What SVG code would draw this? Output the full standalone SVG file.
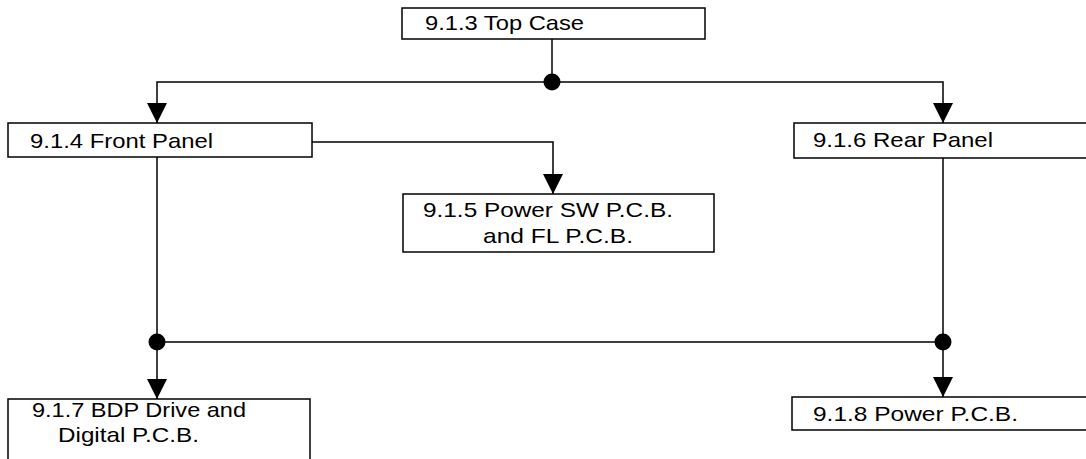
<svg xmlns="http://www.w3.org/2000/svg" width="1086" height="459" viewBox="0 0 1086 459">
<defs>
<style>
.box{fill:#fff;stroke:#000;stroke-width:1.5}
.ln{fill:none;stroke:#000;stroke-width:1.5}
.t{font-family:"Liberation Sans",Arial,sans-serif;font-size:21px;fill:#000}
.dot{fill:#000}
</style>
<marker id="arr" markerUnits="userSpaceOnUse" markerWidth="20" markerHeight="20" viewBox="0 0 20 20" refX="20" refY="10" orient="auto">
<path d="M0,0 L20,10 L0,20 z" fill="#000"/>
</marker>
</defs>
<rect width="1086" height="459" fill="#fff"/>
<g id="connectors">
<path class="ln" d="M552,39 V82"/>
<path class="ln" d="M552,82 H157 V123" marker-end="url(#arr)"/>
<path class="ln" d="M552,82 H943 V123" marker-end="url(#arr)"/>
<path class="ln" d="M312,142 H553 V194" marker-end="url(#arr)"/>
<path class="ln" d="M157,157 V342"/>
<path class="ln" d="M943,158 V342"/>
<path class="ln" d="M157,342 H943"/>
<path class="ln" d="M157,342 V399" marker-end="url(#arr)"/>
<path class="ln" d="M943,342 V397" marker-end="url(#arr)"/>
<circle class="dot" cx="552" cy="82" r="8.5"/>
<circle class="dot" cx="157" cy="342" r="8.5"/>
<circle class="dot" cx="943" cy="342" r="8.5"/>
</g>
<g id="top-case">
<rect class="box" x="402" y="8" width="303" height="31"/>
<text class="t" x="425" y="30" textLength="159" lengthAdjust="spacingAndGlyphs">9.1.3 Top Case</text>
</g>
<g id="front-panel">
<rect class="box" x="8" y="123" width="304" height="34"/>
<text class="t" x="30" y="148" textLength="183" lengthAdjust="spacingAndGlyphs">9.1.4 Front Panel</text>
</g>
<g id="power-sw">
<rect class="box" x="403" y="194" width="311" height="58"/>
<text class="t" x="423" y="217" textLength="250" lengthAdjust="spacingAndGlyphs">9.1.5 Power SW P.C.B.</text>
<text class="t" x="483" y="243" textLength="150" lengthAdjust="spacingAndGlyphs">and FL P.C.B.</text>
</g>
<g id="rear-panel">
<rect class="box" x="794" y="123" width="300" height="35"/>
<text class="t" x="813" y="147" textLength="180" lengthAdjust="spacingAndGlyphs">9.1.6 Rear Panel</text>
</g>
<g id="bdp-drive">
<rect class="box" x="8" y="399" width="302" height="70"/>
<text class="t" x="32" y="417" textLength="214" lengthAdjust="spacingAndGlyphs">9.1.7 BDP Drive and</text>
<text class="t" x="58" y="442" textLength="141" lengthAdjust="spacingAndGlyphs">Digital P.C.B.</text>
</g>
<g id="power-pcb">
<rect class="box" x="792" y="397" width="300" height="33"/>
<text class="t" x="813" y="421" textLength="205" lengthAdjust="spacingAndGlyphs">9.1.8 Power P.C.B.</text>
</g>
</svg>
